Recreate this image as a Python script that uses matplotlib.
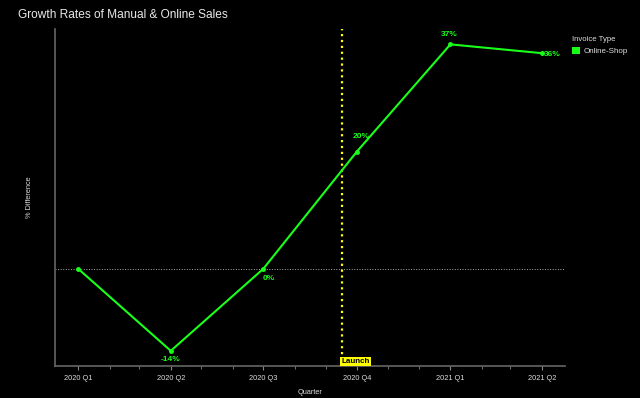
import matplotlib.pyplot as plt
import matplotlib.dates as mdates
from matplotlib.patches import Patch
import numpy as np
import pandas as pd

plt.rcParams["font.family"] = ["Liberation Sans", "DejaVu Sans"]

quarters = ["2020-01-01", "2020-04-01", "2020-07-01", "2020-10-01", "2021-01-01", "2021-04-01"]
quarter_labels = ["2020 Q1", "2020 Q2", "2020 Q3", "2020 Q4", "2021 Q1", "2021 Q2"]
growth = [0.0, -14.0, 0.0, 20.0, 38.3, 36.8]
growth_labels = ["", "-14%", "0%", "20%", "37%", "36%"]
launch_date = "2020-09-16"

GREEN = "#1aff1a"
dates = pd.to_datetime(quarters)

fig = plt.figure(figsize=(6.4, 3.98), dpi=100, facecolor="black")
ax = fig.add_axes([0.086, 0.080, 0.797, 0.847], facecolor="black")

ax.plot(dates, growth, color=GREEN, lw=1.5, marker="o", ms=2.5, zorder=3)
ax.axhline(0, color="#aaaaaa", lw=0.7, ls=":", zorder=1)
ax.axvline(pd.Timestamp(launch_date), color="#ffff00", lw=1.6, ls=":", zorder=2)
ax.text(pd.Timestamp(launch_date), -16.4, "Launch", fontsize=5.8, fontweight="bold",
        color="black", ha="left", va="bottom",
        bbox=dict(facecolor="#ffff00", edgecolor="none", pad=1))

# Label placement per point (offset in points, horizontal alignment)
offsets = [(0, 0), (0, -6), (4, -7), (3, 11), (-1, 7), (1.5, -1)]
aligns = ["center", "center", "center", "center", "center", "left"]
for d, v, lab, off, ha in zip(dates, growth, growth_labels, offsets, aligns):
    if lab:
        ax.annotate(lab, (d, v), xytext=off, textcoords="offset points",
                    ha=ha, va="center", color=GREEN, fontsize=6,
                    fontweight="bold")

ax.set_xticks(dates)
ax.set_xticklabels(quarter_labels)
ax.xaxis.set_minor_locator(mdates.MonthLocator())
ax.set_yticks([])
ax.tick_params(axis="x", which="major", colors="#888888", labelcolor="#dddddd",
               labelsize=5.3, length=3, width=0.8)
ax.tick_params(axis="x", which="minor", colors="#888888", length=2, width=0.6)

for s in ["top", "right"]:
    ax.spines[s].set_visible(False)
for s in ["left", "bottom"]:
    ax.spines[s].set_color("#666666")
    ax.spines[s].set_linewidth(1.2)

ax.set_xlabel("Quarter", color="#dddddd", fontsize=5.3, labelpad=5)
ax.set_ylabel("% Difference", color="#dddddd", fontsize=5.3, labelpad=16)

leg = ax.legend(handles=[Patch(facecolor=GREEN, edgecolor="none", label="Online-Shop")],
                title="Invoice Type", loc="upper left", bbox_to_anchor=(1.0, 1.0),
                frameon=False, fontsize=5.8, title_fontsize=5.6,
                handlelength=0.9, handleheight=0.9, handletextpad=0.5)
leg._legend_box.align = "left"
for t in leg.get_texts():
    t.set_color("#dddddd")
leg.get_title().set_color("#dddddd")

fig.text(0.028, 0.962, "Growth Rates of Manual & Online Sales", color="#e8e8e8",
         fontsize=8.6, ha="left", va="center")

fig.savefig("out.png", dpi=100, facecolor="black")
